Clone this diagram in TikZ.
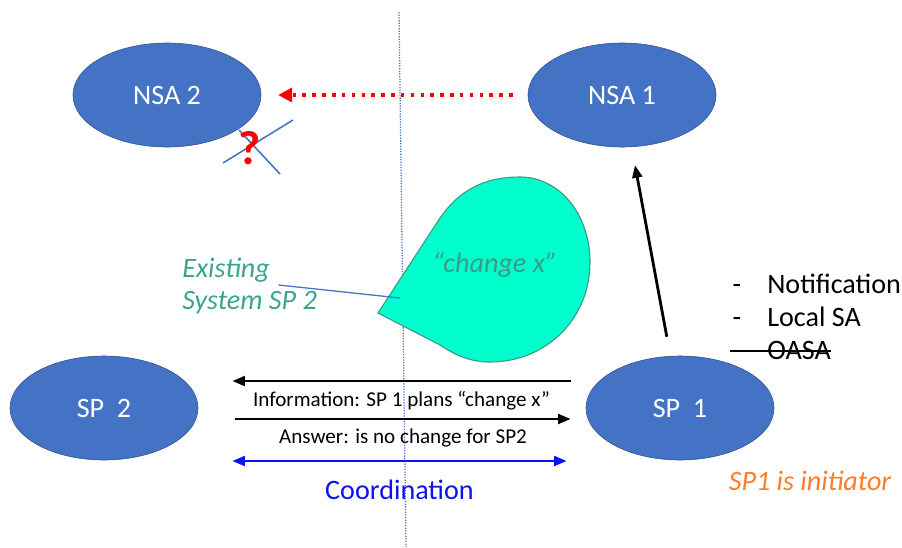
\documentclass[tikz,border=0pt]{standalone}
\usepackage{fontspec}
\setmainfont{Carlito}
\usetikzlibrary{arrows.meta,positioning,shapes}

\definecolor{nodeblue}{HTML}{4472C4}
\definecolor{nodeedge}{HTML}{2F528F}
\definecolor{blobfill}{HTML}{00FFCC}
\definecolor{blobedge}{HTML}{3A9B87}
\definecolor{tealtext}{HTML}{3AA58E}
\definecolor{initorange}{HTML}{FF7C2A}
\definecolor{coordblue}{HTML}{0A14F0}

\tikzset{
  agent/.style={draw=nodeedge,fill=nodeblue,ellipse,minimum width=4.7cm,minimum height=2.6cm,inner sep=0pt,text=white,font=\fontsize{20}{24}\selectfont},
  msg/.style={-{Triangle[length=9pt,width=7pt]},line width=1.8pt},
  caption/.style={font=\fontsize{15}{18}\selectfont},
  bigtext/.style={font=\fontsize{20}{23}\selectfont},
  divider/.style={draw=nodeblue,densely dotted,line width=0.9pt},
}

\begin{document}
\begin{tikzpicture}[x=0.025cm,y=-0.025cm]
\useasboundingbox (0,0) rectangle (902,547);
\draw[divider] (399,12) -- (406,547);
\node[agent] (nsa2) at (167,95) {NSA 2};
\node[agent] (nsa1) at (622,95) {NSA 1};
\node[agent] (sp2) at (104,408) {SP\ \ 2};
\node[agent] (sp1) at (680,408) {SP\ \ 1};
% blocked request to NSA 2
\draw[red,line width=2.5pt,dash pattern=on 2.5pt off 4.5pt,-{Triangle[length=10pt,width=10pt]},shorten <=0.375cm,shorten >=0.42cm] (nsa1) -- (nsa2);
\draw[nodeblue,line width=1.1pt] (223,163) -- (293,120);
\draw[nodeblue,line width=1.1pt] (239,130) -- (280,174);
\node[text=red,font=\bfseries\fontsize{34}{36}\selectfont,inner sep=0] (query) at (250,148) {?};
% the planned change
\draw[blobedge,fill=blobfill,line width=0.8pt] (378,313) -- (440,218) .. controls (462,186) and (490,177) .. (520,177) .. controls (560,177) and (590,215) .. (590,262) .. controls (590,320) and (545,362) .. (490,362) .. controls (470,362) and (455,355) .. (440,345) -- cycle;
\node[bigtext,text=blobedge,font=\itshape\fontsize{20}{23}\selectfont] (change) at (495,265) {“change x”};
\node[bigtext,text=tealtext,font=\itshape\fontsize{20}{23}\selectfont,align=left,anchor=west,inner sep=0] (exist) at (182,286) {Existing\\System SP 2};
\coordinate (calloutfoot) at (400,298);
\draw[nodeblue,line width=0.9pt] ([shift={(29,-1)}]exist.center) -- (calloutfoot);
% SP 1 reports upward
\draw[-{Triangle[length=9pt,width=7pt]},line width=2pt,shorten <=0.49cm,shorten >=0.46cm] (sp1) -- (nsa1);
\node[bigtext,inner sep=0,anchor=base] (dash1) at (737,293) {-};
\node[bigtext,inner sep=0,anchor=base west] (notif) at (767,293) {Notification};
\node[bigtext,inner sep=0,anchor=base] (dash2) at (737,326) {-};
\node[bigtext,inner sep=0,anchor=base west] (localsa) at (767,326) {Local SA};
\node[bigtext,inner sep=0,anchor=base west] (oasa) at (767,359) {OASA};
\draw[line width=1pt] ([shift={(-37,-8)}]oasa.base west) -- ([shift={(0,-8)}]oasa.base east);
% messages between SP 1 and SP 2
\draw[msg] ([shift={(-15,-27)}]sp1.west) -- node[caption,below=3pt,midway] (info) {Information: SP 1 plans “change x”} ([shift={(34,-27)}]sp2.east);
\draw[msg] ([shift={(37,11)}]sp2.east) -- node[caption,below=3pt,midway] (answer) {Answer: is no change for SP2} ([shift={(-15,11)}]sp1.west);
\draw[coordblue,{Triangle[length=9pt,width=7pt]}-{Triangle[length=9pt,width=7pt]},line width=1.8pt] ([shift={(34,53)}]sp2.east) -- node[bigtext,below=9pt,midway,text=coordblue] (coord) {Coordination} ([shift={(-19,53)}]sp1.west);
\node[bigtext,text=initorange,font=\itshape\fontsize{20}{23}\selectfont] (init) at (810,481) {SP1 is initiator};
\end{tikzpicture}
\end{document}
